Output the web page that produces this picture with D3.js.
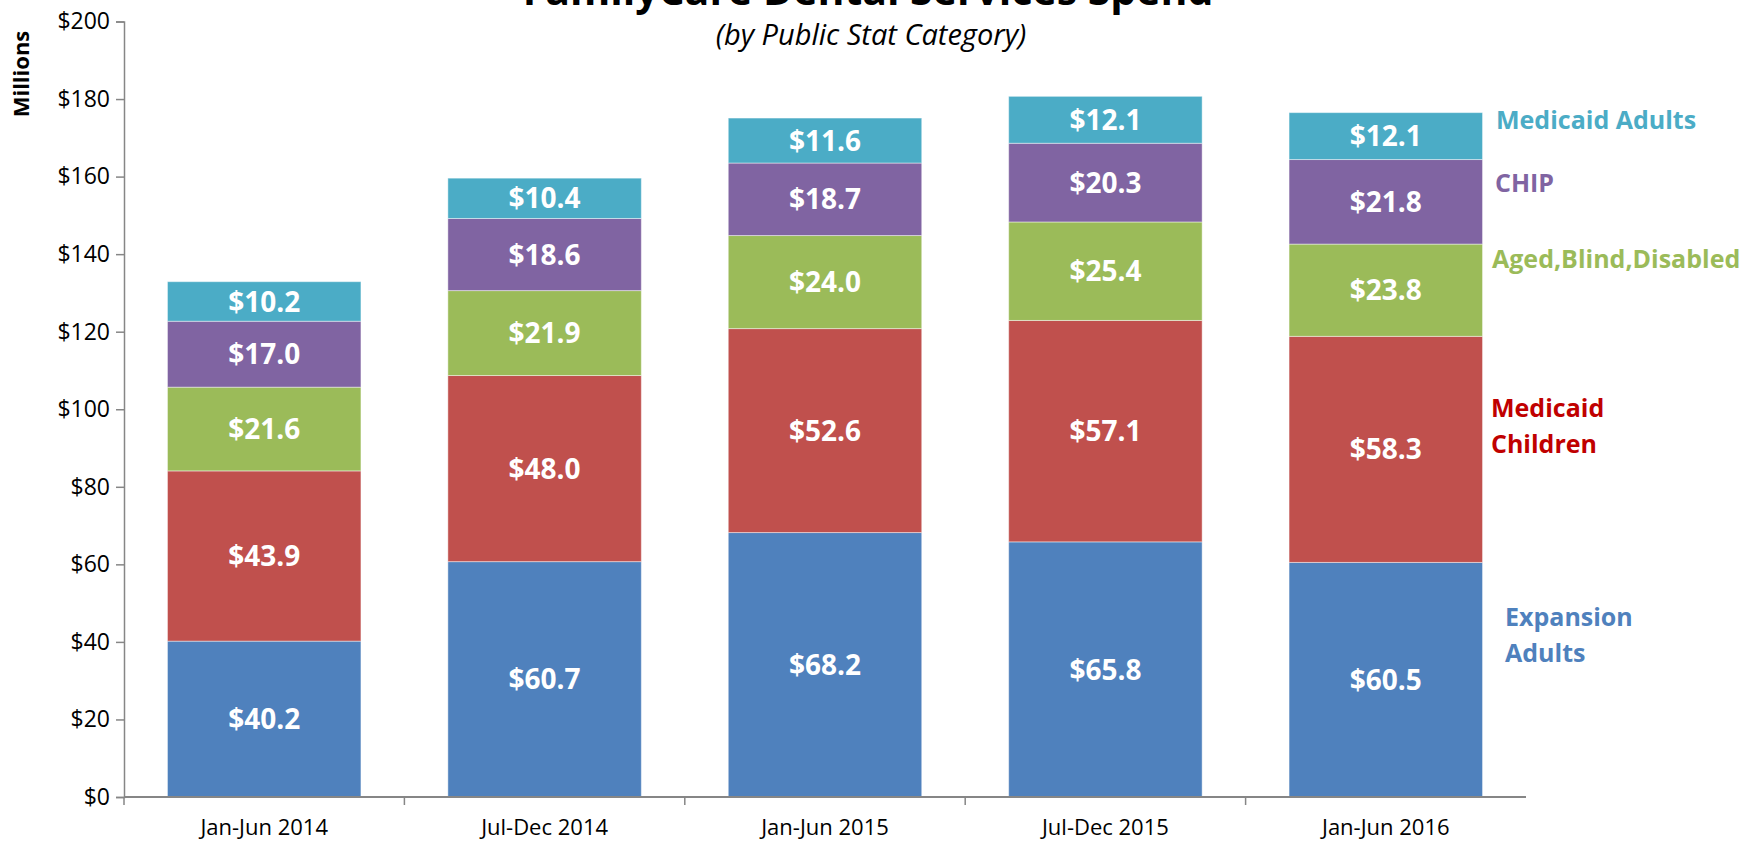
<!DOCTYPE html>
<html>
<head>
<meta charset="utf-8">
<script src="https://cdn.jsdelivr.net/npm/d3@7"></script>
<style>
  html, body { margin: 0; padding: 0; background: #fff; overflow: hidden; }
  svg { display: block; font-family: "Open Sans", "Noto Sans", sans-serif; }
</style>
</head>
<body>
<div id="chart"></div>
<script>
// periods on the x axis
const periods = ['Jan-Jun 2014', 'Jul-Dec 2014', 'Jan-Jun 2015', 'Jul-Dec 2015', 'Jan-Jun 2016'];

// series, bottom to top (millions)
const expansionAdults = [40.2, 60.7, 68.2, 65.8, 60.5];
const medicaidChildren = [43.9, 48.0, 52.6, 57.1, 58.3];
const agedBlindDisabled = [21.6, 21.9, 24.0, 25.4, 23.8];
const chip = [17.0, 18.6, 18.7, 20.3, 21.8];
const medicaidAdults = [10.2, 10.4, 11.6, 12.1, 12.1];

const yTicks = [0, 20, 40, 60, 80, 100, 120, 140, 160, 180, 200];

const series = [
    { key: 'expansion', name: ['Expansion', 'Adults'], values: expansionAdults, color: '#4f81bd', text: '#4f81bd' },
    { key: 'children', name: ['Medicaid', 'Children'], values: medicaidChildren, color: '#c0504d', text: '#c00000' },
    { key: 'abd', name: ['Aged,Blind,Disabled'], values: agedBlindDisabled, color: '#9bbb59', text: '#9bbb59' },
    { key: 'chip', name: ['CHIP'], values: chip, color: '#8064a2', text: '#8064a2' },
    { key: 'madults', name: ['Medicaid Adults'], values: medicaidAdults, color: '#4bacc6', text: '#4bacc6' }
];

const width = 1740, height = 843;
const margin = { top: 21.5, right: 214, bottom: 46, left: 124 };

const svg = d3.select('#chart').append('svg')
    .attr('width', width)
    .attr('height', height);

// build rows for d3.stack
const rows = periods.map((p, i) => {
    const r = { period: p };
    series.forEach(s => { r[s.key] = s.values[i]; });
    return r;
});
const stacked = d3.stack().keys(series.map(s => s.key))(rows);

const x = d3.scaleBand()
    .domain(periods)
    .range([margin.left, width - margin.right])
    .paddingInner(0.31)
    .paddingOuter(0.155);

const y = d3.scaleLinear()
    .domain([0, 200])
    .range([height - margin.bottom, margin.top]);

// title (partly cut off at the top, as in the source)
svg.append('text')
    .attr('x', 868)
    .attr('y', 5)
    .attr('text-anchor', 'middle')
    .attr('font-size', 41)
    .attr('font-weight', 'bold')
    .attr('fill', '#000')
    .text('FamilyCare Dental Services Spend');

svg.append('text')
    .attr('x', 871)
    .attr('y', 45)
    .attr('text-anchor', 'middle')
    .attr('font-size', 29)
    .attr('font-style', 'italic')
    .attr('fill', '#000')
    .text('(by Public Stat Category)');

// bars
const layer = svg.append('g').selectAll('g')
    .data(stacked)
    .enter()
    .append('g')
    .attr('fill', (d, i) => series[i].color);

layer.selectAll('rect')
    .data(d => d)
    .enter()
    .append('rect')
    .attr('x', d => x(d.data.period))
    .attr('width', x.bandwidth())
    .attr('y', d => y(d[1]))
    .attr('height', d => y(d[0]) - y(d[1]))
    .attr('stroke', 'rgba(255,255,255,0.45)')
    .attr('stroke-width', 1);

// value labels
layer.selectAll('text')
    .data(d => d)
    .enter()
    .append('text')
    .attr('x', d => x(d.data.period) + x.bandwidth() / 2)
    .attr('y', d => y((d[0] + d[1]) / 2))
    .attr('dy', '0.36em')
    .attr('text-anchor', 'middle')
    .attr('font-size', 28)
    .attr('font-weight', 'bold')
    .attr('fill', '#fff')
    .text(d => '$' + (d[1] - d[0]).toFixed(1));

// y axis
const yAxis = svg.append('g')
    .attr('transform', `translate(${margin.left},0)`)
    .call(d3.axisLeft(y).tickValues(yTicks).tickSize(8).tickPadding(6).tickFormat(d => '$' + d));
yAxis.selectAll('path, line').attr('stroke', '#868686').attr('stroke-width', 1.5);
yAxis.selectAll('text').attr('font-size', 23).attr('fill', '#000').attr('font-family', '"Open Sans", sans-serif');

// x axis: ticks between categories
const xAxisG = svg.append('g')
    .attr('transform', `translate(0,${height - margin.bottom})`);
xAxisG.append('line')
    .attr('x1', margin.left).attr('x2', width - margin.right)
    .attr('stroke', '#868686').attr('stroke-width', 2);
const step = x.step();
xAxisG.selectAll('.xtick')
    .data(d3.range(periods.length))
    .enter()
    .append('line')
    .attr('x1', i => margin.left + i * step)
    .attr('x2', i => margin.left + i * step)
    .attr('y1', 0).attr('y2', 8)
    .attr('stroke', '#868686').attr('stroke-width', 1.5);
xAxisG.selectAll('.xlabel')
    .data(periods)
    .enter()
    .append('text')
    .attr('x', d => x(d) + x.bandwidth() / 2)
    .attr('y', 38)
    .attr('text-anchor', 'middle')
    .attr('font-size', 22)
    .attr('fill', '#000')
    .text(d => d);

// y axis title
svg.append('text')
    .attr('transform', 'translate(21,74) rotate(-90)')
    .attr('text-anchor', 'middle')
    .attr('dy', '0.35em')
    .attr('font-size', 22)
    .attr('font-weight', 'bold')
    .attr('fill', '#000')
    .text('Millions');

// series names on the right
const legendPos = {
    madults: { x: 1496, y: 120 },
    chip: { x: 1495, y: 183 },
    abd: { x: 1492, y: 259 },
    children: { x: 1491, y: 408 },
    expansion: { x: 1505, y: 617 }
};
series.forEach(s => {
    const p = legendPos[s.key];
    const t = svg.append('text')
        .attr('x', p.x)
        .attr('y', p.y)
        .attr('font-size', 25)
        .attr('font-weight', 'bold')
        .attr('fill', s.text);
    s.name.forEach((line, i) => {
        t.append('tspan')
            .attr('x', p.x)
            .attr('dy', i === 0 ? '0.36em' : 36)
            .text(line);
    });
});
</script>
</body>
</html>
